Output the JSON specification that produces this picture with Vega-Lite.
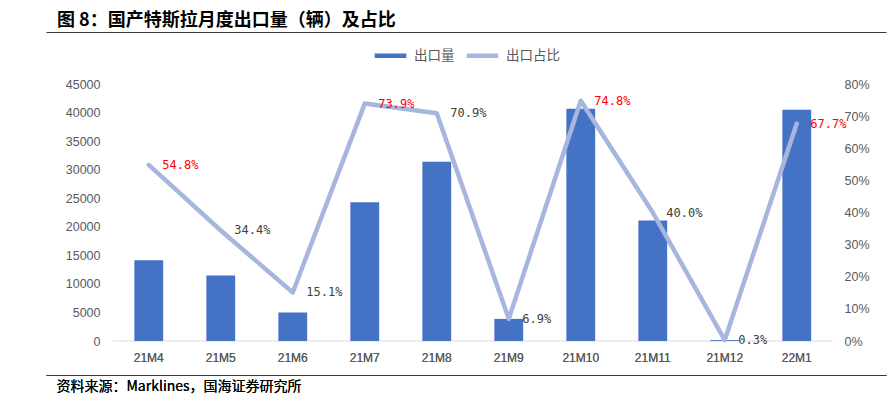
{
  "$schema": "https://vega.github.io/schema/vega-lite/v6.json",
  "autosize": "none",
  "width": 840,
  "height": 343,
  "padding": {"left": 46, "top": 32, "right": 1, "bottom": 22},
  "background": "white",
  "title": {
    "text": "图 8：国产特斯拉月度出口量（辆）及占比",
    "anchor": "start",
    "frame": "group",
    "dx": 11,
    "offset": 2,
    "font": "Noto Sans CJK SC",
    "fontSize": 18,
    "fontWeight": "bold",
    "color": "#000000"
  },
  "data": {
    "values": [
      {"month": "21M4", "exports": 14150, "ratio": 0.548},
      {"month": "21M5", "exports": 11480, "ratio": 0.344},
      {"month": "21M6", "exports": 4980, "ratio": 0.151},
      {"month": "21M7", "exports": 24300, "ratio": 0.739},
      {"month": "21M8", "exports": 31400, "ratio": 0.709},
      {"month": "21M9", "exports": 3870, "ratio": 0.069},
      {"month": "21M10", "exports": 40650, "ratio": 0.748},
      {"month": "21M11", "exports": 21100, "ratio": 0.400},
      {"month": "21M12", "exports": 150, "ratio": 0.003},
      {"month": "22M1", "exports": 40480, "ratio": 0.677}
    ]
  },
  "encoding": {
    "x": {
      "field": "month",
      "type": "nominal",
      "sort": null,
      "scale": {"type": "band", "paddingInner": 0.3333, "paddingOuter": 1, "align": 0.547, "round": false},
      "axis": {
        "orient": "bottom",
        "labelAngle": 0,
        "labelFont": "Liberation Sans",
        "labelFontSize": 12,
        "labelColor": "#595959",
        "labelBaseline": "middle",
        "labelPadding": -17.5,
        "ticks": false,
        "tickSize": 0,
        "domain": true,
        "domainColor": "#3a3a3a",
        "domainWidth": 1.2,
        "title": "资料来源：Marklines，国海证券研究所",
        "titleAnchor": "start",
        "titleAlign": "left",
        "titleBaseline": "middle",
        "titleX": 10,
        "titleY": 11,
        "titleFont": "Noto Sans CJK SC",
        "titleFontSize": 14,
        "titleFontWeight": "normal",
        "titleColor": "#000000"
      }
    }
  },
  "layer": [
    {
      "encoding": {
        "y": {
          "field": "exports",
          "type": "quantitative",
          "scale": {"domain": [-5953.2, 54105.1], "nice": false, "zero": false},
          "axis": {
            "orient": "left",
            "values": [0, 5000, 10000, 15000, 20000, 25000, 30000, 35000, 40000, 45000],
            "format": "d",
            "offset": -58,
            "labelPadding": 4,
            "grid": false,
            "ticks": false,
            "tickSize": 0,
            "domain": false,
            "labelFont": "Liberation Sans",
            "labelFontSize": 12.5,
            "labelColor": "#595959",
            "title": null
          }
        }
      },
      "layer": [
        {
          "mark": {"type": "rule", "color": "#D9D9D9", "strokeWidth": 1},
          "encoding": {
            "x": {"field": "month", "type": "nominal", "sort": null, "bandPosition": -0.25},
            "x2": {"field": "month", "bandPosition": 1.25},
            "y": {"datum": 0, "type": "quantitative"}
          }
        },
        {
          "mark": {"type": "bar", "width": {"band": 0.6}},
          "encoding": {
            "y2": {"datum": 0},
            "color": {
              "datum": "出口量",
              "type": "nominal",
              "scale": {"domain": ["出口量", "出口占比"], "range": ["#4472C4", "#A7B6DE"]},
              "legend": {
                "orient": "none",
                "legendX": 326,
                "legendY": 5,
                "direction": "horizontal",
                "title": null,
                "symbolType": "stroke",
                "symbolSize": 1000,
                "symbolStrokeWidth": 4.5,
                "labelFont": "Noto Sans CJK SC",
                "labelFontSize": 13.5,
                "labelColor": "#595959",
                "labelOffset": 5,
                "columnPadding": 2,
                "padding": 0
              }
            }
          }
        }
      ]
    },
    {
      "encoding": {
        "y": {
          "field": "ratio",
          "type": "quantitative",
          "scale": {"domain": [-0.105836, 0.961868], "nice": false, "zero": false},
          "axis": {
            "orient": "right",
            "values": [0, 0.1, 0.2, 0.3, 0.4, 0.5, 0.6, 0.7, 0.8],
            "format": ".0%",
            "offset": -46,
            "labelPadding": 4,
            "grid": false,
            "ticks": false,
            "tickSize": 0,
            "domain": false,
            "labelFont": "Liberation Sans",
            "labelFontSize": 12.5,
            "labelColor": "#595959",
            "title": null
          }
        }
      },
      "layer": [
        {
          "mark": {"type": "line", "strokeWidth": 4.5, "strokeJoin": "round", "strokeCap": "round"},
          "encoding": {
            "x": {
              "field": "month",
              "type": "nominal",
              "sort": null,
              "axis": {
                "orient": "top",
                "labels": false,
                "ticks": false,
                "tickSize": 0,
                "domain": true,
                "domainColor": "#3a3a3a",
                "domainWidth": 1.2,
                "title": null
              }
            },
            "color": {"datum": "出口占比", "type": "nominal"}
          }
        },
        {
          "mark": {"type": "text", "align": "left", "baseline": "middle", "dx": 13.5, "font": "DejaVu Sans Mono", "fontSize": 12},
          "encoding": {
            "text": {"field": "ratio", "type": "quantitative", "format": ".1%"},
            "color": {
              "condition": {"test": "indexof(['21M4','21M7','21M10','22M1'], datum.month) >= 0", "value": "#FF0000"},
              "value": "#404040"
            }
          }
        }
      ]
    }
  ],
  "resolve": {"scale": {"y": "independent"}},
  "config": {
    "view": {"stroke": null},
    "axis": {"grid": false}
  }
}
